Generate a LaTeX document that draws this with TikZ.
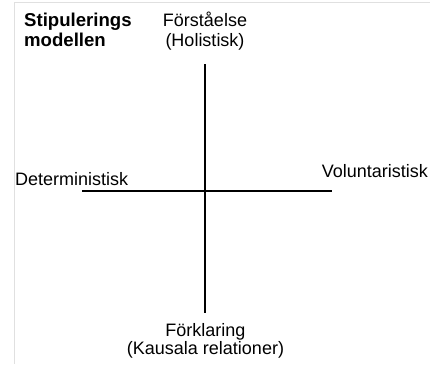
\documentclass[tikz,border=0pt]{standalone}
\usepackage{fontspec}
\setmainfont{Liberation Sans}
\begin{document}
\begin{tikzpicture}[x=1pt,y=-1pt,
  lbl/.style={inner sep=0pt,anchor=base,font=\fontsize{18}{20}\selectfont},
  ttl/.style={inner sep=0pt,anchor=base west,font=\fontsize{18.6}{20}\selectfont\bfseries},
  frameline/.style={draw=black!12,line width=1pt},
  axisv/.style={draw=black,line width=2pt},
  axish/.style={draw=black,line width=1.2pt}]
\useasboundingbox (0,0) rectangle (430,364);
% light frame
\coordinate (f1) at (14,364);
\coordinate (f2) at (14,2.5);
\coordinate (f3) at (430,2.5);
\draw[frameline] (f1) -- (f2) -- (f3);
% title
\node[ttl] (t1) at (24,26.5) {Stipulerings};
\node[ttl] (t2) at (24,46.5) {modellen};
% top label
\node[lbl] (top1) at (205,26.5) {Förståelse};
\node[lbl] (top2) at (205,46.5) {(Holistisk)};
% bottom label
\node[lbl] (bot1) at (205.5,336.5) {Förklaring};
\node[lbl] (bot2) at (205.5,354.5) {(Kausala relationer)};
% side labels
\node[lbl,anchor=base west] (left) at (15,185) {Deterministisk};
\node[lbl,anchor=base east] (right) at (428,177.5) {Voluntaristisk};
% axes
\coordinate (vt) at (205,64);
\coordinate (vb) at (205,313);
\coordinate (hl) at (82,191);
\coordinate (hr) at (332,191);
\draw[axisv] (vt) -- (vb);
\draw[axish] (hl) -- (hr);
\end{tikzpicture}
\end{document}
